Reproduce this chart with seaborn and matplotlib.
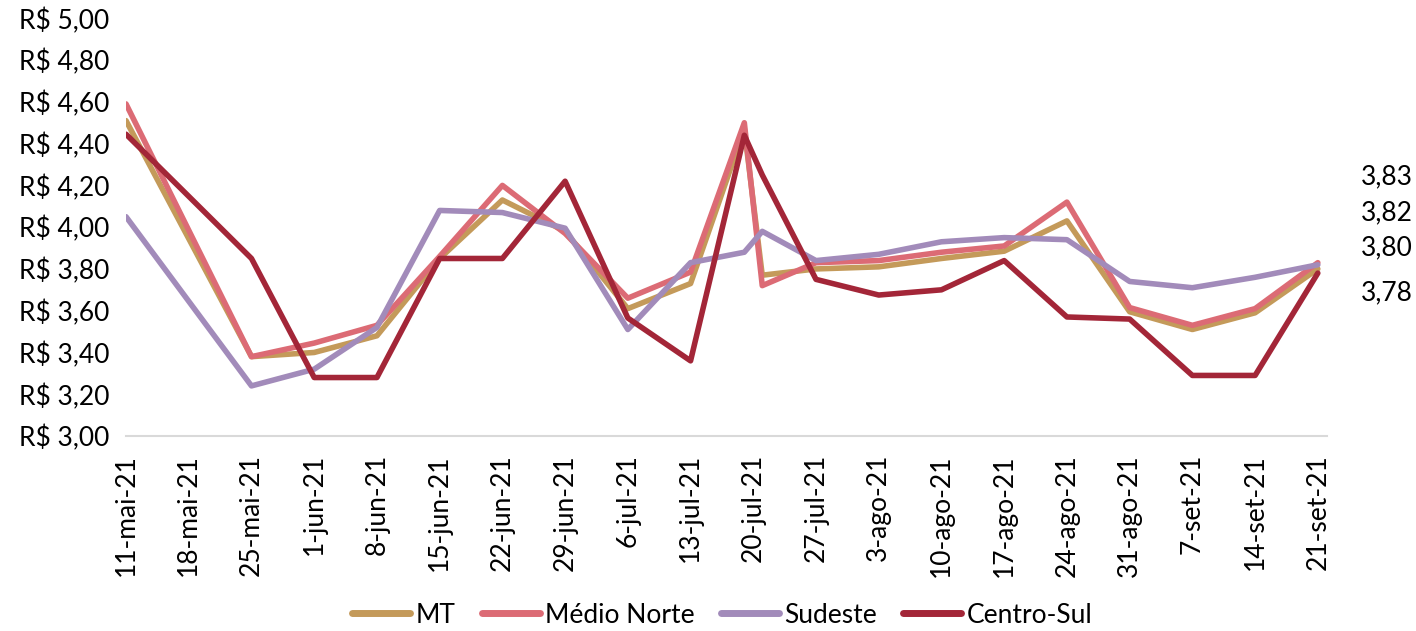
import pandas as pd
import matplotlib.pyplot as plt
import seaborn as sns

sns.set_style('white')
plt.rcParams['font.family'] = ['Lato', 'DejaVu Sans']
plt.rcParams['text.color'] = 'black'
plt.rcParams['xtick.color'] = 'black'
plt.rcParams['ytick.color'] = 'black'

# Datas das cotações
datas = ['2021-05-11', '2021-05-25', '2021-06-01', '2021-06-08', '2021-06-15',
         '2021-06-22', '2021-06-29', '2021-07-06', '2021-07-13', '2021-07-19',
         '2021-07-21', '2021-07-27', '2021-08-03', '2021-08-10', '2021-08-17',
         '2021-08-24', '2021-08-31', '2021-09-07', '2021-09-14', '2021-09-21']

mt = [4.51, 3.38, 3.40, 3.48, 3.85, 4.13, 3.98, 3.61, 3.73, 4.47,
      3.77, 3.80, 3.81, 3.85, 3.885, 4.03, 3.595, 3.51, 3.59, 3.80]
medio_norte = [4.59, 3.38, 3.445, 3.53, 3.86, 4.20, 3.97, 3.66, 3.785, 4.50,
               3.72, 3.83, 3.84, 3.88, 3.91, 4.12, 3.615, 3.53, 3.61, 3.83]
sudeste = [4.05, 3.24, 3.32, 3.52, 4.08, 4.07, 3.995, 3.51, 3.83, 3.88,
           3.98, 3.84, 3.87, 3.93, 3.95, 3.94, 3.74, 3.71, 3.76, 3.82]
centro_sul = [4.445, 3.85, 3.28, 3.28, 3.85, 3.85, 4.22, 3.565, 3.36, 4.44,
              4.25, 3.75, 3.675, 3.70, 3.84, 3.57, 3.56, 3.29, 3.29, 3.78]

series = ['MT', 'Médio Norte', 'Sudeste', 'Centro-Sul']
cores = ['#C49A5A', '#DC6B75', '#A28BBA', '#A32638']
meses = {5: 'mai', 6: 'jun', 7: 'jul', 8: 'ago', 9: 'set'}

df = pd.DataFrame({'Data': pd.to_datetime(datas), 'MT': mt, 'Médio Norte': medio_norte,
                   'Sudeste': sudeste, 'Centro-Sul': centro_sul})
longo = df.melt(id_vars='Data', var_name='Região', value_name='Preço')

fig = plt.figure(figsize=(14.16, 6.31), dpi=100)
ax = fig.add_axes([0.089, 0.309, 0.848, 0.662])

sns.lineplot(data=longo, x='Data', y='Preço', hue='Região', hue_order=series,
             palette=cores, linewidth=4, ax=ax, legend=True)

fs = 19

# Eixo X
ticks = pd.date_range('2021-05-11', '2021-09-21', freq='7D')
ax.set_xticks(ticks)
ax.set_xticklabels([f'{d.day}-{meses[d.month]}-21' for d in ticks], rotation=90, fontsize=fs)
ax.set_xlim(pd.Timestamp('2021-05-11'), pd.Timestamp('2021-09-22'))
ax.tick_params(axis='x', length=8, width=1.5, color='#D9D9D9', pad=5)

# Eixo Y
ax.set_ylim(3.0, 5.0)
yt = [3.0 + 0.2 * i for i in range(11)]
ax.set_yticks(yt)
ax.set_yticklabels([f'R$ {v:.2f}'.replace('.', ',') for v in yt], fontsize=fs)
ax.tick_params(axis='y', length=0, pad=12)

ax.set_xlabel('')
ax.set_ylabel('')
for s in ['top', 'right', 'left']:
    ax.spines[s].set_visible(False)
ax.spines['bottom'].set_color('#D9D9D9')
ax.spines['bottom'].set_linewidth(1.5)

# Rótulos dos últimos valores
ultimos = sorted([v[-1] for v in [mt, medio_norte, sudeste, centro_sul]], reverse=True)
pos_y = [0.62, 0.534, 0.45, 0.342]
for v, py in zip(ultimos, pos_y):
    ax.text(1.05, py, f'{v:.2f}'.replace('.', ','),
            transform=ax.transAxes, fontsize=fs, ha='center', va='center')

leg = ax.legend(loc='center', bbox_to_anchor=(0.51, 0.025), bbox_transform=fig.transFigure,
                ncol=4, frameon=False, fontsize=fs, handlelength=2.2, columnspacing=1.0,
                handletextpad=0.2)
for l in leg.get_lines():
    l.set_linewidth(5)

plt.savefig('out.png', dpi=100)
plt.close()
